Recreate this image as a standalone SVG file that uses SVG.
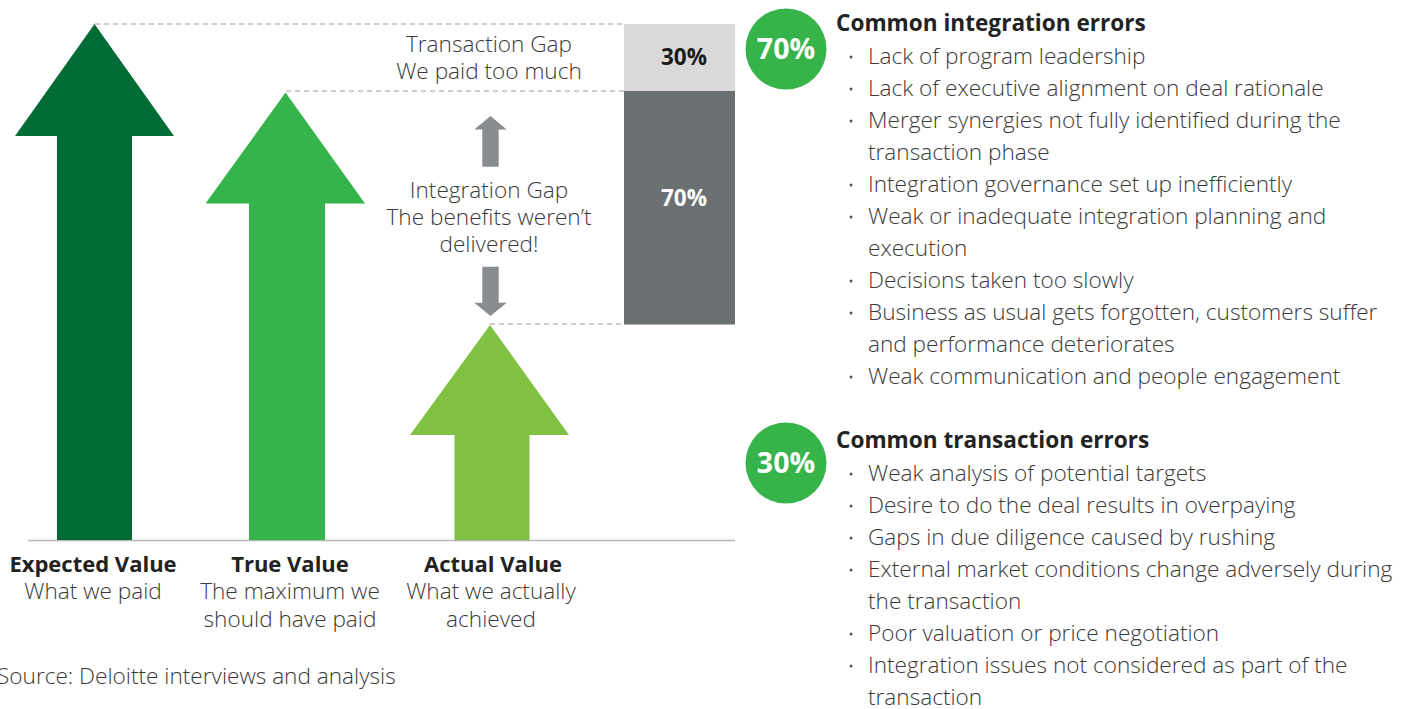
<svg xmlns="http://www.w3.org/2000/svg" width="1415" height="709" viewBox="0 0 1415 709">
<style>
.lt{font-family:"Open Sans","Liberation Sans",sans-serif;font-weight:300;fill:#3a3a3a;font-size:22.6px}
.c{text-anchor:middle}
.bd{font-family:"Open Sans","Liberation Sans",sans-serif;font-weight:700;fill:#222;font-size:22px}
.hd{font-size:22.6px}
.pct{font-family:"Open Sans","Liberation Sans",sans-serif;font-weight:700;font-size:22.5px;text-anchor:middle}
.circ{font-family:"Open Sans","Liberation Sans",sans-serif;font-weight:700;font-size:28.5px;fill:#fff;text-anchor:middle}
.dash{stroke:#bdbdbd;stroke-width:1.3;stroke-dasharray:5 4;fill:none}
.dot{fill:#555}
</style>
<rect width="1415" height="709" fill="#fff"/>
<g id="connectors">
<line class="dash" x1="95" y1="24" x2="624" y2="24"/>
<line class="dash" x1="286" y1="91" x2="624" y2="91"/>
<line class="dash" x1="490" y1="324" x2="624" y2="324"/>
<line x1="28" y1="540.5" x2="735" y2="540.5" stroke="#b5b5b5" stroke-width="1.5"/>
<polygon fill="#898c91" points="490.5,116 506.7,129.5 498.7,129.5 498.7,166.7 482.3,166.7 482.3,129.5 474.3,129.5"/>
<polygon fill="#898c91" points="482.3,266.7 498.7,266.7 498.7,302.7 506.7,302.7 490.5,316 474.3,302.7 482.3,302.7"/>
</g>
<g id="expected">
<polygon fill="#006b35" points="94.5,24 174,136 132,136 132,540 57,540 57,136 15,136"/>
<text class="bd c" x="93" y="572">Expected Value</text>
<text class="lt c" x="93" y="599">What we paid</text>
</g>
<g id="true">
<polygon fill="#34b44b" points="285.5,92.5 365,203.5 325,203.5 325,540 249,540 249,203.5 205.5,203.5"/>
<text class="bd c" x="290" y="572">True Value</text>
<text class="lt c" x="290" y="599">The maximum we</text>
<text class="lt c" x="290" y="627">should have paid</text>
</g>
<g id="actual">
<polygon fill="#80c142" points="490,325 569,435 529.5,435 529.5,540 454.5,540 454.5,435 410,435"/>
<text class="bd c" x="493" y="572">Actual Value</text>
<text class="lt c" x="491" y="599">What we actually</text>
<text class="lt c" x="491" y="627">achieved</text>
</g>
<g id="transaction-gap">
<rect x="624" y="24" width="111" height="67" fill="#d9dad9"/>
<text class="pct" x="684" y="65" fill="#1a1a1a">30%</text>
<text class="lt c" x="489" y="52">Transaction Gap</text>
<text class="lt c" x="489" y="79">We paid too much</text>
</g>
<g id="integration-gap">
<rect x="624" y="91" width="111" height="233.5" fill="#6b7173"/>
<text class="pct" x="684" y="206" fill="#fff">70%</text>
<text class="lt c" x="489" y="198">Integration Gap</text>
<text class="lt c" x="489" y="225">The benefits weren’t</text>
<text class="lt c" x="489" y="252">delivered!</text>
</g>
<g id="integration-errors">
<circle cx="786" cy="49" r="40.5" fill="#36b44a"/>
<text class="circ" x="786" y="59">70%</text>
<text class="bd hd" x="836" y="31">Common integration errors</text>
<g class="lt">
<text x="868" y="64">Lack of program leadership</text>
<text x="868" y="96">Lack of executive alignment on deal rationale</text>
<text x="868" y="128">Merger synergies not fully identified during the</text>
<text x="868" y="160">transaction phase</text>
<text x="868" y="192">Integration governance set up inefficiently</text>
<text x="868" y="224">Weak or inadequate integration planning and</text>
<text x="868" y="256">execution</text>
<text x="868" y="288">Decisions taken too slowly</text>
<text x="868" y="320">Business as usual gets forgotten, customers suffer</text>
<text x="868" y="352">and performance deteriorates</text>
<text x="868" y="384">Weak communication and people engagement</text>
</g>
<g class="dot">
<circle cx="851" cy="57" r="1.5"/><circle cx="851" cy="89" r="1.5"/><circle cx="851" cy="121" r="1.5"/>
<circle cx="851" cy="185" r="1.5"/><circle cx="851" cy="217" r="1.5"/><circle cx="851" cy="281" r="1.5"/>
<circle cx="851" cy="313" r="1.5"/><circle cx="851" cy="377" r="1.5"/>
</g>
</g>
<g id="transaction-errors">
<circle cx="786" cy="463" r="40.5" fill="#36b44a"/>
<text class="circ" x="786" y="473">30%</text>
<text class="bd hd" x="836" y="448">Common transaction errors</text>
<g class="lt">
<text x="868" y="481">Weak analysis of potential targets</text>
<text x="868" y="513">Desire to do the deal results in overpaying</text>
<text x="868" y="545">Gaps in due diligence caused by rushing</text>
<text x="868" y="577">External market conditions change adversely during</text>
<text x="868" y="609">the transaction</text>
<text x="868" y="641">Poor valuation or price negotiation</text>
<text x="868" y="673">Integration issues not considered as part of the</text>
<text x="868" y="705">transaction</text>
</g>
<g class="dot">
<circle cx="851" cy="474" r="1.5"/><circle cx="851" cy="506" r="1.5"/><circle cx="851" cy="538" r="1.5"/>
<circle cx="851" cy="570" r="1.5"/><circle cx="851" cy="634" r="1.5"/><circle cx="851" cy="666" r="1.5"/>
</g>
</g>
<text class="lt" x="-3" y="684">Source: Deloitte interviews and analysis</text>
</svg>
